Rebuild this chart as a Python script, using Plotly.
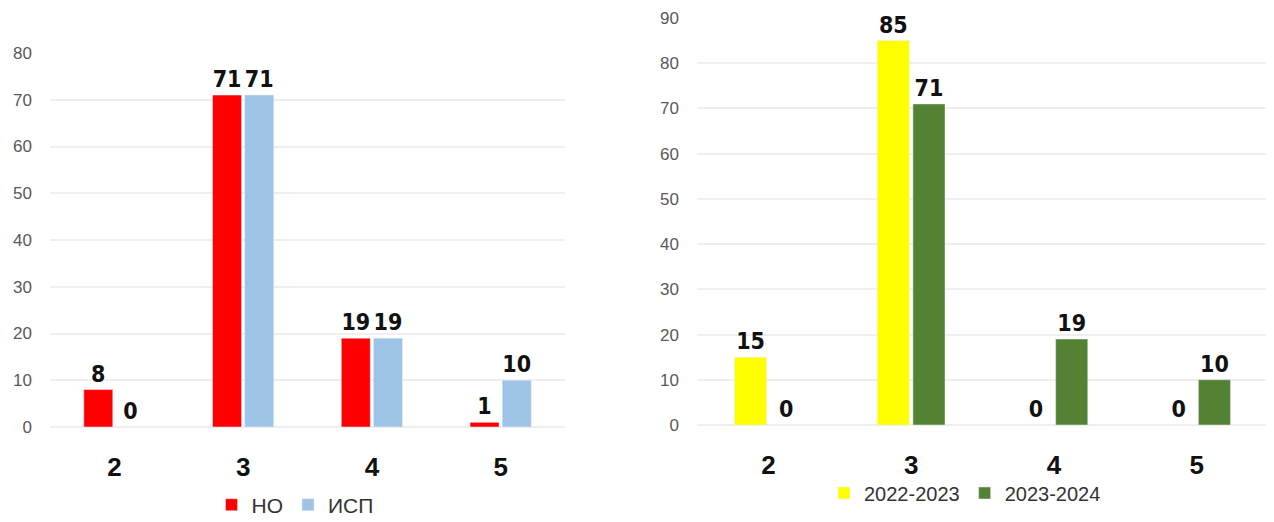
import plotly.graph_objects as go

grades = ["2", "3", "4", "5"]
ho_values = [8, 71, 19, 1]
isp_values = [0, 71, 19, 10]
year_2022 = [15, 85, 0, 0]
year_2023 = [0, 71, 19, 10]

# page body has an 8px margin, so the figure is drawn offset by (8, 8)
OFF = 8
W, H = 1274 - OFF, 522 - OFF


def px_x(x):
    return (x - OFF) / W


def px_y(y):
    return 1 - (y - OFF) / H


label_font = dict(family="DejaVu Sans Condensed, Liberation Sans", size=23, color="#111111", weight="bold")

fig = go.Figure()
fig.add_trace(go.Bar(x=grades, y=ho_values, name="НО", marker_color="#ff0000",
                     text=ho_values, textposition="outside", textfont=label_font,
                     cliponaxis=False, xaxis="x", yaxis="y", legend="legend"))
fig.add_trace(go.Bar(x=grades, y=isp_values, name="ИСП", marker_color="#9dc3e6",
                     text=isp_values, textposition="outside", textfont=label_font,
                     cliponaxis=False, xaxis="x", yaxis="y", legend="legend"))
fig.add_trace(go.Bar(x=grades, y=year_2022, name="2022-2023", marker_color="#ffff00",
                     text=year_2022, textposition="outside", textfont=label_font,
                     cliponaxis=False, xaxis="x2", yaxis="y2", legend="legend2"))
fig.add_trace(go.Bar(x=grades, y=year_2023, name="2023-2024", marker_color="#548235",
                     text=year_2023, textposition="outside", textfont=label_font,
                     cliponaxis=False, xaxis="x2", yaxis="y2", legend="legend2"))

xaxis_style = dict(showgrid=False, showline=False, ticks="", ticklabelstandoff=22,
                   tickfont=dict(family="Liberation Sans", size=26, color="#111111", weight="bold"))
yaxis_style = dict(showgrid=True, gridcolor="#efefef", gridwidth=1.5, zeroline=True,
                   zerolinecolor="#efefef", zerolinewidth=1.5, dtick=10, ticks="",
                   ticklabelstandoff=17,
                   tickfont=dict(family="Liberation Sans", size=17, color="#595959"))

fig.update_layout(
    width=W, height=H,
    margin=dict(l=0, r=0, t=0, b=0, autoexpand=False),
    plot_bgcolor="white", paper_bgcolor="white",
    barmode="group", bargap=0.5, bargroupgap=0.1,
    uniformtext=dict(minsize=10, mode="show"),
    xaxis=dict(domain=[px_x(50), px_x(565)], anchor="y", **xaxis_style),
    yaxis=dict(domain=[px_y(427), px_y(53)], range=[0, 80], anchor="x", **yaxis_style),
    xaxis2=dict(domain=[px_x(697), px_x(1268)], anchor="y2", **xaxis_style),
    yaxis2=dict(domain=[px_y(425), px_y(18)], range=[0, 90], anchor="x2", **yaxis_style),
    legend=dict(orientation="h", x=px_x(295), xanchor="center", y=px_y(505), yanchor="middle",
                font=dict(family="Liberation Sans", size=21, color="#333333"),
                itemwidth=30, bgcolor="rgba(0,0,0,0)"),
    legend2=dict(orientation="h", x=px_x(965), xanchor="center", y=px_y(493), yanchor="middle",
                 font=dict(family="Liberation Sans", size=20, color="#333333"),
                 itemwidth=30, bgcolor="rgba(0,0,0,0)"),
)

fig.write_html("out.html")
